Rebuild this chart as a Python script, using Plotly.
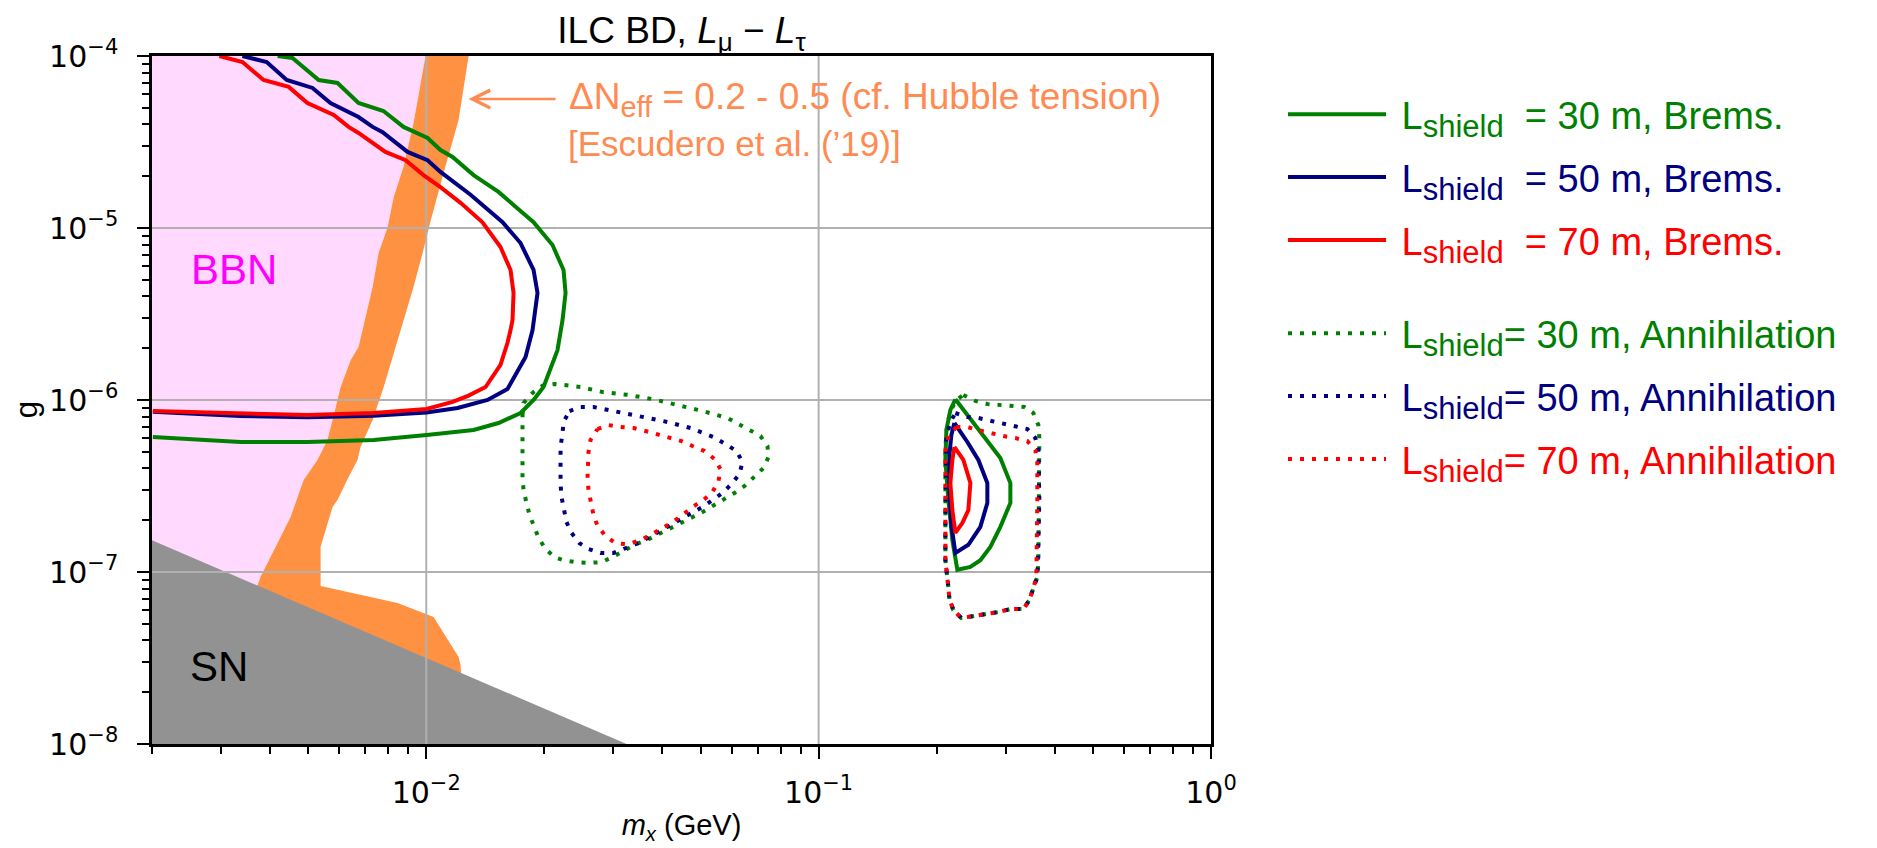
import math
import plotly.graph_objects as go

# ---------------- axes / ticks ----------------
X_RANGE = (2e-3, 1.0)
G_RANGE = (1e-8, 1e-4)
x_ticks = [1e-2, 1e-1, 1e0]
x_tick_text = ["10<sup>−2</sup>", "10<sup>−1</sup>", "10<sup>0</sup>"]
g_ticks = [1e-8, 1e-7, 1e-6, 1e-5, 1e-4]
g_tick_text = ["10<sup>−8</sup>", "10<sup>−7</sup>", "10<sup>−6</sup>", "10<sup>−5</sup>", "10<sup>−4</sup>"]

# ---------------- shaded regions ----------------
sn_x = [0.002, 0.0324]
sn_g = [1.53e-7, 1e-8]

band_left_x = [0.00996, 0.00928, 0.00875, 0.00826, 0.00797, 0.00756, 0.00730, 0.00672, 0.00642,
               0.00605, 0.00588, 0.00560, 0.00528, 0.00487, 0.00451, 0.00413, 0.00378, 0.00346]
band_left_g = [1e-4, 4.08e-5, 2.27e-5, 1.51e-5, 1.01e-5, 7.16e-6, 4.54e-6, 2.03e-6, 1.71e-6,
               1.19e-6, 9.1e-7, 5.85e-7, 4.48e-7, 3.43e-7, 2.09e-7, 1.40e-7, 9.35e-8, 5.26e-8]
band_right_x = [0.01238, 0.01223, 0.01209, 0.01044, 0.00845, 0.00538, 0.00538, 0.00577, 0.00594,
                0.00634, 0.00668, 0.00680, 0.00730, 0.00779, 0.00826, 0.00875, 0.00928, 0.00979,
                0.01025, 0.01107, 0.01167, 0.01209, 0.01282]
band_right_g = [1.8e-8, 2.88e-8, 3.2e-8, 5.47e-8, 6.6e-8, 8.3e-8, 1.4e-7, 2.39e-7, 2.62e-7,
                3.57e-7, 4.48e-7, 5.33e-7, 7.65e-7, 1.19e-6, 1.88e-6, 2.92e-6, 4.54e-6, 7.16e-6,
                1.09e-5, 2.09e-5, 3.25e-5, 4.25e-5, 1e-4]

# ---------------- Bremsstrahlung contours ----------------
brems30_x = [0.00418, 0.00456, 0.00532, 0.00594, 0.00672, 0.00778, 0.00875, 0.01008, 0.01087, 0.01167,
             0.01320, 0.01528, 0.01689, 0.01877, 0.02098, 0.02238, 0.02265, 0.02225, 0.02160, 0.01990,
             0.01877, 0.01739, 0.01528, 0.01320, 0.01002, 0.00734, 0.00498, 0.00336, 0.00201]
brems30_g = [1e-4, 9.74e-5, 7.25e-5, 6.97e-5, 5.33e-5, 4.79e-5, 3.87e-5, 3.34e-5, 2.84e-5, 2.59e-5,
             2.03e-5, 1.62e-5, 1.33e-5, 1.08e-5, 7.96e-6, 5.70e-6, 4.19e-6, 2.92e-6, 1.95e-6, 1.19e-6,
             1.0e-6, 8.40e-7, 7.35e-7, 6.69e-7, 6.26e-7, 5.85e-7, 5.70e-7, 5.70e-7, 6.09e-7]
brems30_isl_x = [0.2231, 0.29049, 0.30807, 0.30807, 0.29049, 0.27394, 0.25834, 0.24362, 0.22573,
                 0.2192, 0.21412, 0.21039, 0.21163, 0.21665, 0.2231]
brems30_isl_g = [1.01e-6, 4.60e-7, 3.29e-7, 2.52e-7, 1.83e-7, 1.40e-7, 1.17e-7, 1.07e-7, 1.03e-7,
                 1.53e-7, 2.62e-7, 4.48e-7, 6.69e-7, 8.75e-7, 1.01e-6]

brems50_x = [0.00340, 0.00392, 0.00441, 0.00513, 0.00570, 0.00672, 0.00730, 0.00774, 0.00896, 0.01008,
             0.01087, 0.01297, 0.01565, 0.01739, 0.01877, 0.01921, 0.01866, 0.01791, 0.01611, 0.01433,
             0.01202, 0.01002, 0.00734, 0.00498, 0.00336, 0.00201]
brems50_g = [1e-4, 9.23e-5, 7.25e-5, 6.52e-5, 5.33e-5, 4.42e-5, 3.87e-5, 3.61e-5, 2.77e-5, 2.48e-5,
             2.12e-5, 1.56e-5, 1.08e-5, 8.18e-6, 5.70e-6, 4.19e-6, 2.55e-6, 1.78e-6, 1.16e-6, 1.0e-6,
             8.98e-7, 8.46e-7, 8.10e-7, 7.93e-7, 8.07e-7, 8.55e-7]
brems50_isl_x = [0.22179, 0.23937, 0.25533, 0.26916, 0.26916, 0.25834, 0.24078, 0.2231, 0.21792,
                 0.21538, 0.21538, 0.21792, 0.22179]
brems50_isl_g = [7.35e-7, 5.70e-7, 4.48e-7, 3.29e-7, 2.52e-7, 1.83e-7, 1.44e-7, 1.29e-7, 1.88e-7,
                 3.0e-7, 4.79e-7, 6.26e-7, 7.35e-7]

brems70_x = [0.00297, 0.00340, 0.00385, 0.00446, 0.00498, 0.00581, 0.00634, 0.00672, 0.00787, 0.00886,
             0.00984, 0.01087, 0.01223, 0.01391, 0.01546, 0.01640, 0.01669, 0.01659, 0.01640, 0.01611,
             0.01546, 0.01416, 0.01282, 0.01167, 0.01002, 0.00734, 0.00498, 0.00336, 0.00201]
brems70_g = [1e-4, 9.23e-5, 7.25e-5, 6.61e-5, 5.33e-5, 4.54e-5, 3.87e-5, 3.57e-5, 2.77e-5, 2.48e-5,
             2.03e-5, 1.73e-5, 1.40e-5, 1.08e-5, 7.75e-6, 5.70e-6, 4.19e-6, 2.92e-6, 2.55e-6, 2.15e-6,
             1.60e-6, 1.19e-6, 1.06e-6, 9.74e-7, 8.87e-7, 8.40e-7, 8.18e-7, 8.40e-7, 8.63e-7]
brems70_isl_x = [0.22179, 0.23382, 0.24362, 0.24078, 0.23245, 0.2231, 0.2192, 0.21665, 0.2192, 0.22179]
brems70_isl_g = [5.33e-7, 4.48e-7, 3.29e-7, 2.29e-7, 1.93e-7, 1.69e-7, 2.29e-7, 3.29e-7, 4.48e-7, 5.33e-7]

# ---------------- Annihilation contours ----------------
ann30_l_x = [0.01759, 0.01770, 0.01866, 0.01978, 0.02123, 0.02473, 0.02830, 0.03276, 0.03794, 0.04395,
             0.05059, 0.05858, 0.06626, 0.07109, 0.07407, 0.07450, 0.07235, 0.06863, 0.06472, 0.06103,
             0.05722, 0.05365, 0.05059, 0.04716, 0.04421, 0.04145, 0.03884, 0.03641, 0.03394, 0.03182,
             0.02983, 0.02797, 0.02591, 0.02415, 0.02238, 0.02123, 0.02014, 0.01933, 0.01888, 0.01833,
             0.01801, 0.01770, 0.01759, 0.01759]
ann30_l_g = [8.18e-7, 9.61e-7, 1.10e-6, 1.21e-6, 1.24e-6, 1.19e-6, 1.11e-6, 1.07e-6, 1.01e-6, 9.35e-7,
             8.63e-7, 7.86e-7, 6.78e-7, 6.17e-7, 5.40e-7, 4.66e-7, 4.02e-7, 3.57e-7, 3.16e-7, 2.88e-7,
             2.66e-7, 2.42e-7, 2.23e-7, 2.06e-7, 1.90e-7, 1.78e-7, 1.64e-7, 1.53e-7, 1.44e-7, 1.32e-7,
             1.22e-7, 1.14e-7, 1.13e-7, 1.14e-7, 1.17e-7, 1.22e-7, 1.36e-7, 1.58e-7, 1.83e-7, 2.15e-7,
             2.52e-7, 3.0e-7, 3.52e-7, 8.18e-7]
ann30_r_x = [0.2338, 0.2509, 0.2692, 0.2888, 0.3117, 0.3344, 0.3526, 0.3631, 0.3652, 0.3652, 0.3652,
             0.3631, 0.3609, 0.3526, 0.3444, 0.3325, 0.3081, 0.2871, 0.2676, 0.2480, 0.2311, 0.2205,
             0.2154, 0.2141, 0.2116, 0.2104, 0.2104, 0.2104, 0.2104, 0.2129, 0.2179, 0.2231, 0.2338]
ann30_r_g = [1.07e-6, 9.87e-7, 9.48e-7, 9.35e-7, 9.23e-7, 9.11e-7, 8.40e-7, 7.15e-7, 6.01e-7, 5.12e-7,
             2.62e-7, 1.13e-7, 9.35e-8, 8.07e-8, 6.87e-8, 6.09e-8, 6.09e-8, 5.85e-8, 5.70e-8, 5.47e-8,
             5.40e-8, 6.01e-8, 6.97e-8, 8.18e-8, 9.87e-8, 1.17e-7, 2.01e-7, 3.43e-7, 5.33e-7, 7.35e-7,
             8.75e-7, 9.87e-7, 1.07e-6]

ann50_l_x = [0.02318, 0.02473, 0.02668, 0.03072, 0.03557, 0.04121, 0.04716, 0.05396, 0.05790, 0.06175,
             0.06396, 0.06285, 0.05997, 0.05688, 0.05365, 0.05059, 0.04743, 0.04421, 0.04145, 0.03884,
             0.03641, 0.03414, 0.03182, 0.03000, 0.02780, 0.02591, 0.02458, 0.02345, 0.02277, 0.02238,
             0.02212, 0.02199, 0.02199, 0.02225, 0.02238, 0.02318]
ann50_l_g = [8.63e-7, 9.11e-7, 9.11e-7, 8.52e-7, 7.96e-7, 7.45e-7, 6.87e-7, 6.09e-7, 5.55e-7, 5.05e-7,
             4.36e-7, 3.71e-7, 3.25e-7, 2.88e-7, 2.62e-7, 2.39e-7, 2.20e-7, 2.01e-7, 1.83e-7, 1.69e-7,
             1.56e-7, 1.45e-7, 1.36e-7, 1.29e-7, 1.29e-7, 1.36e-7, 1.47e-7, 1.69e-7, 1.95e-7, 2.33e-7,
             2.73e-7, 3.25e-7, 5.33e-7, 6.43e-7, 7.45e-7, 8.63e-7]
ann50_r_x = [0.2231, 0.2394, 0.2553, 0.2756, 0.2957, 0.3172, 0.3404, 0.3567, 0.3631, 0.3652, 0.3631,
             0.3609, 0.3526, 0.3444, 0.3325, 0.3081, 0.2871, 0.2676, 0.2480, 0.2311, 0.2205, 0.2154,
             0.2141, 0.2116, 0.2104, 0.2104, 0.2104, 0.2104, 0.2116, 0.2167, 0.2231]
ann50_r_g = [8.40e-7, 7.96e-7, 7.86e-7, 7.55e-7, 7.35e-7, 7.06e-7, 6.78e-7, 6.01e-7, 5.12e-7, 2.62e-7,
             1.13e-7, 9.35e-8, 8.07e-8, 6.87e-8, 6.09e-8, 6.09e-8, 5.85e-8, 5.70e-8, 5.47e-8, 5.40e-8,
             6.01e-8, 6.97e-8, 8.18e-8, 9.87e-8, 1.17e-7, 2.01e-7, 3.43e-7, 5.12e-7, 6.09e-7, 7.45e-7,
             8.40e-7]

ann70_l_x = [0.02732, 0.02914, 0.03126, 0.03374, 0.03620, 0.03884, 0.04169, 0.04474, 0.04771, 0.05119,
             0.05428, 0.05622, 0.05557, 0.05365, 0.05089, 0.04771, 0.04500, 0.04243, 0.04002, 0.03750,
             0.03516, 0.03257, 0.03036, 0.02863, 0.02732, 0.02668, 0.02622, 0.02591, 0.02576, 0.02576,
             0.02591, 0.02622, 0.02732]
ann70_l_g = [6.78e-7, 7.15e-7, 6.97e-7, 6.87e-7, 6.60e-7, 6.34e-7, 6.01e-7, 5.77e-7, 5.40e-7, 5.05e-7,
             4.54e-7, 3.97e-7, 3.38e-7, 2.92e-7, 2.62e-7, 2.39e-7, 2.15e-7, 1.95e-7, 1.80e-7, 1.66e-7,
             1.53e-7, 1.45e-7, 1.47e-7, 1.62e-7, 1.85e-7, 2.15e-7, 2.55e-7, 3.0e-7, 3.52e-7, 4.19e-7,
             4.98e-7, 5.85e-7, 6.78e-7]
ann70_r_x = [0.2244, 0.2394, 0.2553, 0.2739, 0.2957, 0.3172, 0.3404, 0.3567, 0.3609, 0.3609, 0.3609,
             0.3588, 0.3526, 0.3444, 0.3325, 0.3081, 0.2871, 0.2676, 0.2480, 0.2311, 0.2205, 0.2154,
             0.2141, 0.2116, 0.2104, 0.2104, 0.2104, 0.2104, 0.2141, 0.2244]
ann70_r_g = [6.97e-7, 6.97e-7, 6.69e-7, 6.43e-7, 6.17e-7, 6.01e-7, 5.77e-7, 5.12e-7, 4.30e-7, 2.62e-7,
             1.13e-7, 9.35e-8, 8.07e-8, 6.87e-8, 6.09e-8, 6.09e-8, 5.85e-8, 5.70e-8, 5.47e-8, 5.40e-8,
             6.01e-8, 6.97e-8, 8.18e-8, 9.87e-8, 1.17e-7, 2.01e-7, 3.43e-7, 5.12e-7, 6.09e-7, 6.97e-7]

# ---------------- style ----------------
GREEN, NAVY, RED = "#008000", "#000080", "#FF0000"
PINK, ORANGE, GREY = "#FFD9FE", "#FF9142", "#929292"
TEXT_ORANGE = "#FF8A52"
GRID = "#B0B0B0"
SANS = "Liberation Sans, Arial, Helvetica, sans-serif"
DEJAVU = "DejaVu Sans, sans-serif"


def join(*parts):
    xs, ys = [], []
    for px, py in parts:
        if xs:
            xs.append(None)
            ys.append(None)
        xs += list(px)
        ys += list(py)
    return xs, ys


fig = go.Figure()


def region(x, y, color):
    fig.add_trace(go.Scatter(x=x, y=y, mode="lines", fill="toself", fillcolor=color,
                             line=dict(width=0, color=color), showlegend=False, hoverinfo="skip"))


# BBN (pink) up to the left edge of the Delta N_eff band
region([X_RANGE[0]] + band_left_x + [X_RANGE[0]],
       [G_RANGE[1]] + band_left_g + [band_left_g[-1]], PINK)
# Delta N_eff band
region(band_left_x + band_right_x, band_left_g + band_right_g, ORANGE)
# SN
region(sn_x + [X_RANGE[0]], sn_g + [G_RANGE[0]], GREY)

# grid lines (above fills, below contours, as in matplotlib)
gx, gy = [], []
for v in x_ticks:
    if X_RANGE[0] < v < X_RANGE[1]:
        gx += [v, v, None]
        gy += [G_RANGE[0], G_RANGE[1], None]
for v in g_ticks:
    if G_RANGE[0] < v < G_RANGE[1]:
        gx += [X_RANGE[0], X_RANGE[1], None]
        gy += [v, v, None]
fig.add_trace(go.Scatter(x=gx, y=gy, mode="lines", line=dict(color=GRID, width=2),
                         showlegend=False, hoverinfo="skip"))

NBSP = "\u00a0"
SHIELD = "L<sub><span style='font-size:31px'>shield</span></sub>"
brems = [
    ("30", GREEN, (brems30_x, brems30_g), (brems30_isl_x, brems30_isl_g)),
    ("50", NAVY, (brems50_x, brems50_g), (brems50_isl_x, brems50_isl_g)),
    ("70", RED, (brems70_x, brems70_g), (brems70_isl_x, brems70_isl_g)),
]
for i, (L, col, a, b) in enumerate(brems):
    x, y = join(a, b)
    fig.add_trace(go.Scatter(
        x=x, y=y, mode="lines", line=dict(color=col, width=4),
        name=f"<span style='color:{col}'>{NBSP}{SHIELD}{NBSP}{NBSP}= {L} m, Brems.</span>",
        legend="legend", legendgroup=f"b{i}", hoverinfo="skip"))

ann = [
    ("30", GREEN, (ann30_l_x, ann30_l_g), (ann30_r_x, ann30_r_g)),
    ("50", NAVY, (ann50_l_x, ann50_l_g), (ann50_r_x, ann50_r_g)),
    ("70", RED, (ann70_l_x, ann70_l_g), (ann70_r_x, ann70_r_g)),
]
for i, (L, col, a, b) in enumerate(ann):
    x, y = join(a, b)
    fig.add_trace(go.Scatter(
        x=x, y=y, mode="lines", line=dict(color=col, width=4, dash="4px,8px"),
        name=f"<span style='color:{col}'>{NBSP}{SHIELD}= {L} m, Annihilation</span>",
        legend="legend2", legendgroup=f"a{i}", hoverinfo="skip"))

# the page body has an 8px margin: the figure is sized so that it fills the window
W, H = 1869, 838
ML, MR, MT, MB = 144, 666, 48, 102
PW, PH = W - ML - MR, H - MT - MB

axis_common = dict(
    type="log", showgrid=False, zeroline=False,
    showline=True, linecolor="black", linewidth=2.5, mirror=True,
    ticks="outside", ticklen=12, tickwidth=2, tickcolor="black",
    tickmode="array",
    tickfont=dict(family=DEJAVU, size=30, color="black"),
    minor=dict(ticks="outside", ticklen=7, tickwidth=1.5, tickcolor="black", dtick="D1", showgrid=False),
)

legend_common = dict(
    xanchor="left", yanchor="top", bgcolor="rgba(0,0,0,0)", borderwidth=0,
    font=dict(family=SANS, size=38, color="black"), itemwidth=98, tracegroupgap=10.5,
    traceorder="grouped",
)

fig.update_layout(
    width=W, height=H,
    margin=dict(l=ML, r=MR, t=MT, b=MB, autoexpand=False),
    paper_bgcolor="white", plot_bgcolor="white",
    title=dict(text=f"ILC BD, <i>L</i><sub>μ</sub>{NBSP}−{NBSP}<i>L</i><sub>τ</sub>",
               x=0.5, xref="paper", xanchor="center", y=1 - 22 / H, yref="container", yanchor="middle",
               font=dict(family=SANS, size=37, color="black")),
    xaxis=dict(axis_common, range=[math.log10(X_RANGE[0]), math.log10(X_RANGE[1])],
               tickvals=x_ticks, ticktext=x_tick_text, ticklabelstandoff=8,
               title=dict(text="<i>m</i><sub><i>x</i></sub> (GeV)", standoff=6,
                          font=dict(family=SANS, size=29, color="black"))),
    yaxis=dict(axis_common, range=[math.log10(G_RANGE[0]), math.log10(G_RANGE[1])],
               tickvals=g_ticks, ticktext=g_tick_text, ticklabelstandoff=13),
    legend=dict(legend_common, x=(1275 - ML) / PW, y=1 - (75 - MT) / PH),
    legend2=dict(legend_common, x=(1275 - ML) / PW, y=1 - (294 - MT) / PH),
    showlegend=True,
)

# y-axis label
fig.add_annotation(xref="paper", yref="paper", x=(18 - ML) / PW, y=0.485, text="g", textangle=-90,
                   xanchor="center", yanchor="middle",
                   showarrow=False, font=dict(family=SANS, size=31, color="black"))

# region labels
fig.add_annotation(x=math.log10(0.00323), y=math.log10(5.7e-6), text="BBN", showarrow=False,
                   font=dict(family=SANS, size=42, color="#FF00FF"))
fig.add_annotation(x=math.log10(0.00297), y=math.log10(2.84e-8), text="SN", showarrow=False,
                   font=dict(family=SANS, size=42, color="black"))
fig.add_annotation(x=math.log10(0.01282), y=math.log10(5.62e-5),
                   text="ΔN<sub><span style='font-size:29px'>eff</span></sub> = 0.2 - 0.5 (cf. Hubble tension)",
                   showarrow=True, ax=98, ay=0, xanchor="left", align="left",
                   arrowcolor=TEXT_ORANGE, arrowwidth=2.5, arrowhead=5, arrowsize=1.4, startstandoff=11,
                   font=dict(family=SANS, size=37, color=TEXT_ORANGE))
fig.add_annotation(x=math.log10(0.02277), y=math.log10(3.12e-5),
                   text="[Escudero et al. (’19)]", showarrow=False, xanchor="left", align="left",
                   font=dict(family=SANS, size=35, color=TEXT_ORANGE))

fig.write_html("out.html")
